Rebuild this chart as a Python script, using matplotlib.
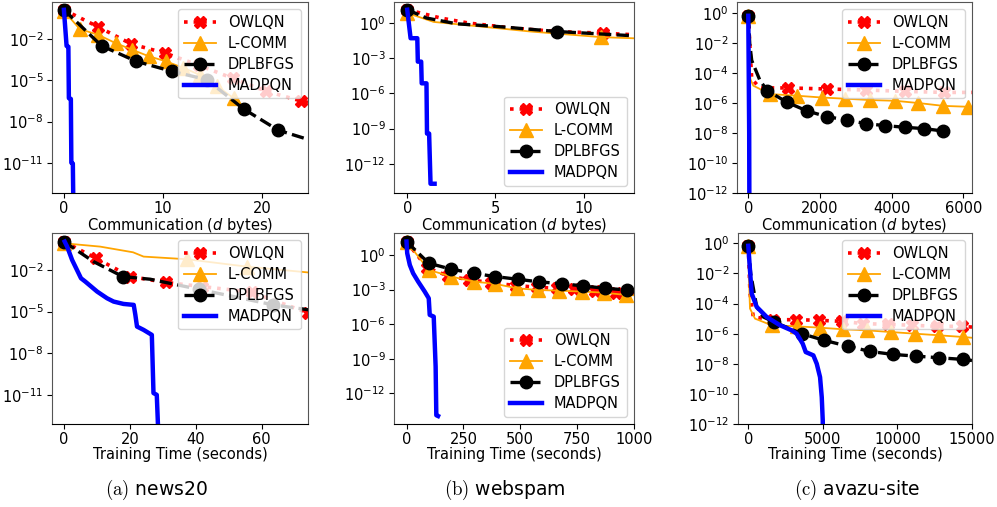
import numpy as np
import matplotlib
matplotlib.use("Agg")
import matplotlib.pyplot as plt
from matplotlib.ticker import FixedLocator, NullLocator, LogFormatterSciNotation

W, H = 997, 507

# ---------------- data (y stored as log10 values) ----------------
# (a) news20 - communication
a1_owlqn_x = [0, 3.4, 6.8, 10.2, 13.6, 17.0, 20.4, 23.9, 24.6]
a1_owlqn_y = [0.13, -1.09, -2.36, -3.02, -3.9, -4.85, -5.8, -6.5, -6.6]
a1_lcomm_x = [0, 1.6, 3.47, 5.2, 6.9, 8.6, 10.3, 12.05, 13.7, 15.4, 17.1, 17.6]
a1_lcomm_y = [0.05, -1.27, -1.69, -2.29, -2.78, -3.26, -3.62, -4.1, -4.6, -5.4, -6.3, -6.5]
a1_dpl_x = [0, 3.8, 7.3, 10.9, 14.4, 18.1, 21.6, 24.6]
a1_dpl_y = [0.13, -2.49, -3.62, -4.35, -4.95, -7.08, -8.63, -9.3]
a1_mad_x = [0, 0.27, 0.45, 0.5, 0.7, 0.75, 0.9, 0.95]
a1_mad_y = [0.13, -2.5, -2.55, -6.3, -6.35, -11.0, -11.05, -14.0]

# (a) news20 - time
a2_owlqn_x = [0, 9.75, 20.2, 31, 42, 57, 74.2]
a2_owlqn_y = [0.04, -1.16, -2.48, -2.9, -3.2, -3.6, -5.1]
a2_lcomm_x = [0, 11, 21, 24.2, 37.3, 55.5, 74.5]
a2_lcomm_y = [-0.08, -0.32, -0.73, -1.04, -1.23, -1.76, -2.19]
a2_dpl_x = [0, 9, 17.9, 26.2, 41, 63.6, 74.5]
a2_dpl_y = [0.04, -1.4, -2.48, -2.67, -3.4, -4.52, -4.88]
a2_mad_x = [0.25, 1, 2.5, 5.2, 6.5, 10.1, 13.1, 15.1, 18.1, 21.2, 21.7, 22.2,
            24.2, 26.7, 27.2, 28.2, 28.7]
a2_mad_y = [0.04, -0.32, -1.28, -2.6, -2.84, -3.56, -4.04, -4.28, -4.45, -4.52,
            -5.24, -6.08, -6.32, -6.68, -10.87, -11.0, -14.0]

# (b) webspam - communication
b1_owlqn_x = [0, 1.9, 3.5, 6.0, 8.5, 11.1, 12.9]
b1_owlqn_y = [1.14, 0.43, 0.0, -0.43, -0.72, -0.86, -1.0]
b1_lcomm_x = [0, 1.5, 4.15, 7.0, 11.0, 12.9]
b1_lcomm_y = [0.86, 0.1, -0.29, -0.72, -1.2, -1.3]
b1_dpl_x = [0, 1.1, 2.8, 5.1, 8.5, 12.9]
b1_dpl_y = [1.14, 0.43, -0.06, -0.29, -0.72, -1.09]
b1_mad_x = [0, 0.19, 0.57, 0.6, 0.79, 0.82, 1.09, 1.12, 1.24, 1.32, 1.55]
b1_mad_y = [1.14, -1.29, -1.29, -3.29, -3.29, -5.14, -5.14, -9.43, -9.43, -13.71, -13.71]

# (b) webspam - time
b2_owlqn_x = [0, 90, 182, 275, 370, 481, 575, 660, 737, 830, 920, 1000]
b2_owlqn_y = [1.16, -1.1, -1.82, -2.15, -2.4, -2.66, -2.8, -2.9, -2.98, -3.1, -3.27, -3.35]
b2_lcomm_x = [0, 97.7, 197, 295, 390, 484, 576, 671, 773, 867, 963, 1000]
b2_lcomm_y = [1.16, -1.3, -1.88, -2.31, -2.51, -2.89, -3.04, -3.1, -3.18, -3.27, -3.47, -3.5]
b2_dpl_x = [0, 97.7, 197, 295, 390, 489, 584, 681.6, 777, 871.6, 970.7]
b2_dpl_y = [1.16, -0.72, -1.24, -1.59, -1.88, -2.11, -2.34, -2.49, -2.69, -2.89, -3.04]
b2_mad_x = [0, 3, 14.5, 29, 51, 80, 97.7, 102, 119.6, 128, 131, 138.6]
b2_mad_y = [1.16, 0.15, -0.87, -1.59, -2.31, -3.18, -3.76, -5.2, -5.35, -9.69, -13.9, -13.97]

# (c) avazu-site - communication
c1_owlqn_x = [0, 95, 327, 1099, 2188, 3280, 4370, 5460, 6250]
c1_owlqn_y = [-0.16, -4.38, -4.98, -4.98, -5.05, -5.12, -5.21, -5.28, -5.28]
c1_lcomm_x = [0, 20, 60, 140, 605, 1350, 2048, 2700, 3397, 4094, 4745, 5442, 6140, 6250]
c1_lcomm_y = [-0.16, -3.0, -4.4, -4.83, -5.39, -5.5, -5.62, -5.7, -5.79, -5.84, -5.99, -6.18, -6.24, -6.26]
c1_dpl_x = [0, 40, 95, 327, 530, 1088, 1630, 2188, 2746, 3285, 3823, 4372, 4902, 5442]
c1_dpl_y = [-0.16, -2.0, -3.14, -4.49, -5.16, -5.95, -6.51, -6.9, -7.12, -7.37, -7.5, -7.61, -7.7, -7.86]
c1_mad_x = [0, 25, 30]
c1_mad_y = [-0.16, -8.0, -13.0]

# (c) avazu-site - time
c2_owlqn_x = [0, 114, 336, 1678, 3181, 4765, 6268, 7718, 9396, 10966, 12644, 14322, 15000]
c2_owlqn_y = [-0.16, -3.33, -4.89, -5.07, -5.07, -5.11, -5.18, -5.33, -5.38, -5.44, -5.51, -5.51, -5.56]
c2_lcomm_x = [0, 50, 114, 450, 1570, 3248, 4812, 6376, 7987, 9557, 11188, 12819, 14409, 15000]
c2_lcomm_y = [-0.16, -2.5, -4.33, -5.0, -5.44, -5.51, -5.6, -5.71, -5.78, -5.89, -6.0, -6.11, -6.22, -6.27]
c2_dpl_x = [0, 160, 564, 1007, 1725, 3584, 5081, 6711, 8168, 9732, 11255, 12819, 14389, 15000]
c2_dpl_y = [-0.16, -2.0, -4.22, -4.89, -5.22, -6.0, -6.44, -6.84, -7.18, -7.38, -7.49, -7.6, -7.71, -7.78]
c2_mad_x = [0, 114, 228, 564, 1235, 2128, 2913, 3248, 3651, 3852, 4362, 4591, 4812, 4926, 4993, 5000]
c2_mad_y = [-0.16, -1.78, -3.33, -4.22, -4.89, -5.44, -5.78, -6.0, -6.67, -7.22, -7.44, -8.0,
            -8.89, -10.22, -11.78, -13.0]

labels = ["OWLQN", "L-COMM", "DPLBFGS", "MADPQN"]
captions = ["(a)", "(b)", "(c)"]
datasets = ["news20", "webspam", "avazu-site"]
xlabel_top = "Communication ($d$ bytes)"
xlabel_bot = "Training Time (seconds)"

# ---------------- layout ----------------
fig = plt.figure(figsize=(W / 100, H / 100), dpi=100)
plt.rcParams['font.family'] = ['DejaVu Sans']
FS = 10.5


def add_ax(l, r, t, b):
    return fig.add_axes([l / W, 1 - b / H, (r - l) / W, (b - t) / H])


def markers_all_but_last(n):
    return list(range(n - 1))


def draw(ax, series, xlim, ylim, yticks, xticks, xlabel, legloc):
    (ox, oy, om), (lx, ly, lm), (dx, dy, dm), (mx, my) = series
    ax.plot(ox, 10 ** np.array(oy), ':', color='red', lw=2.6, marker='X', ms=9,
            markevery=om, label=labels[0])
    ax.plot(lx, 10 ** np.array(ly), '-', color='orange', lw=1.3, marker='^', ms=9.5,
            markevery=lm, label=labels[1])
    ax.plot(dx, 10 ** np.array(dy), '--', color='black', lw=2.4, marker='o', ms=9,
            markevery=dm, label=labels[2])
    ax.plot(mx, 10 ** np.array(my), '-', color='blue', lw=3.2, label=labels[3])
    ax.set_yscale('log')
    ax.set_xlim(*xlim)
    ax.set_ylim(10 ** ylim[0], 10 ** ylim[1])
    ax.yaxis.set_major_locator(FixedLocator([10.0 ** e for e in yticks]))
    ax.yaxis.set_major_formatter(LogFormatterSciNotation())
    ax.yaxis.set_minor_locator(NullLocator())
    ax.set_xticks(xticks)
    ax.tick_params(labelsize=FS, pad=2.5)
    ax.set_xlabel(xlabel, fontsize=FS, labelpad=0)
    for s in ['left', 'top', 'right']:
        ax.spines[s].set_color('#555555')
    ax.spines['bottom'].set_color('black')
    ax.legend(loc=legloc, fontsize=FS, handlelength=2.2, labelspacing=0.4)


# (a)
ax = add_ax(52, 308, 2, 193)
draw(ax, [(a1_owlqn_x, a1_owlqn_y, markers_all_but_last(len(a1_owlqn_x))),
          (a1_lcomm_x, a1_lcomm_y, list(range(11))),
          (a1_dpl_x, a1_dpl_y, markers_all_but_last(len(a1_dpl_x))),
          (a1_mad_x, a1_mad_y)],
     (-1.2, 24.6), (-13.2, 0.7), [-2, -5, -8, -11], [0, 10, 20], xlabel_top, 'upper right')
ax = add_ax(52, 308, 233, 424)
draw(ax, [(a2_owlqn_x, a2_owlqn_y, [0, 1, 2, 3, 4, 5, 6]),
          (a2_lcomm_x, a2_lcomm_y, [0, 4, 5]),
          (a2_dpl_x, a2_dpl_y, [0, 2, 4, 5]),
          (a2_mad_x, a2_mad_y)],
     (-3.6, 74.1), (-13.1, 0.66), [-2, -5, -8, -11], [0, 20, 40, 60], xlabel_bot, 'upper right')

# (b)
ax = add_ax(394, 634, 2, 193)
draw(ax, [(b1_owlqn_x, b1_owlqn_y, [0, 5]),
          (b1_lcomm_x, b1_lcomm_y, [0, 4]),
          (b1_dpl_x, b1_dpl_y, [0, 4]),
          (b1_mad_x, b1_mad_y)],
     (-0.75, 12.85), (-14.5, 1.8), [0, -3, -6, -9, -12], [0, 5, 10], xlabel_top, 'lower right')
ax = add_ax(394, 634, 233, 424)
draw(ax, [(b2_owlqn_x, b2_owlqn_y, list(range(11))),
          (b2_lcomm_x, b2_lcomm_y, list(range(11))),
          (b2_dpl_x, b2_dpl_y, list(range(11))),
          (b2_mad_x, b2_mad_y)],
     (-55, 998), (-14.66, 1.9), [0, -3, -6, -9, -12], [0, 250, 500, 750, 1000], xlabel_bot, 'lower right')

# (c)
ax = add_ax(737, 972, 2, 193)
draw(ax, [(c1_owlqn_x, c1_owlqn_y, [0, 3, 4, 5, 6, 7]),
          (c1_lcomm_x, c1_lcomm_y, [0] + list(range(4, 13))),
          (c1_dpl_x, c1_dpl_y, [0] + list(range(4, 14))),
          (c1_mad_x, c1_mad_y)],
     (-315, 6240), (-12, 0.76), [0, -2, -4, -6, -8, -10, -12], [0, 2000, 4000, 6000], xlabel_top, 'upper right')
ax = add_ax(738, 972, 233, 424)
draw(ax, [(c2_owlqn_x, c2_owlqn_y, [0] + list(range(3, 12))),
          (c2_lcomm_x, c2_lcomm_y, [0] + list(range(4, 13))),
          (c2_dpl_x, c2_dpl_y, [0] + list(range(4, 13))),
          (c2_mad_x, c2_mad_y)],
     (-690, 15000), (-12, 0.69), [0, -2, -4, -6, -8, -10, -12], [0, 5000, 10000, 15000], xlabel_bot, 'upper right')

# captions
for cx, cap, name in zip([157, 505, 857], captions, datasets):
    fig.text(cx / W, 1 - 490 / H, r"$\mathrm{" + cap + "}$ " + name, ha='center', va='center',
             fontsize=13.5, math_fontfamily='cm')

fig.savefig("out.png", dpi=100)
